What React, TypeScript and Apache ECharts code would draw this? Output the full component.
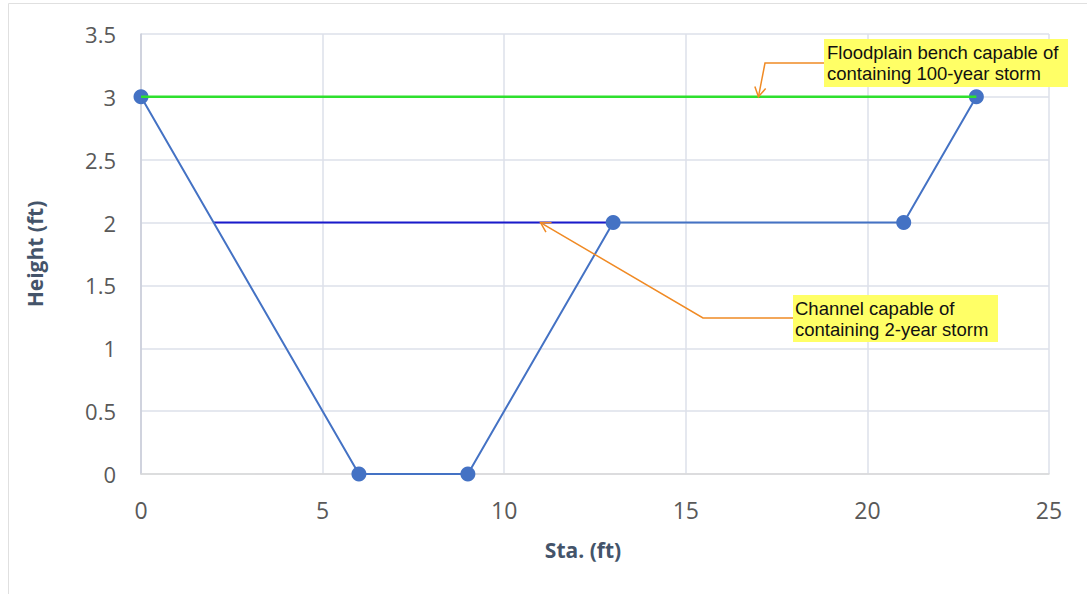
import React, { useEffect, useRef } from "react";
import * as echarts from "echarts";

const stationFt = [0, 6, 9, 13, 21, 23];
const heightFt = [3, 0, 0, 2, 2, 3];
const floodplainLine = [[0, 3], [23, 3]];
const channelLine = [[2, 2], [13, 2]];
const xTicks = [0, 25, 5];
const yTicks = [0, 3.5, 0.5];
const noteBench = ["Floodplain bench capable of", "containing 100-year storm"];
const noteChannel = ["Channel capable of", "containing 2-year storm"];
const benchTarget = [17, 3];
const channelTarget = [11, 2];

export default function App() {
  const ref = useRef<HTMLDivElement>(null);
  useEffect(() => {
    document.body.style.margin = "0";
    const chart = echarts.init(ref.current!, undefined, { renderer: "svg" });
    const titleFont = { fontFamily: "Open Sans", fontSize: 21, fontWeight: "bold", color: "#44546a" };
    chart.setOption({
      animation: false,
      backgroundColor: "#ffffff",
      grid: { left: 141, right: 38, top: 34, bottom: 120 },
      xAxis: {
        type: "value",
        min: xTicks[0],
        max: xTicks[1],
        interval: xTicks[2],
        name: "Sta. (ft)",
        nameLocation: "middle",
        nameGap: 65,
        nameTextStyle: { ...titleFont, padding: [0, 24, 0, 0] },
        axisLine: { show: true, lineStyle: { color: "#d9d9d9", width: 1.5 } },
        axisTick: { show: false },
        axisLabel: {
          show: true,
          margin: 24,
          fontFamily: "Open Sans",
          fontSize: 23,
          color: "#595959",
        },
        splitLine: { show: true, lineStyle: { color: "#dde0ea", width: 1.5 } },
      },
      yAxis: {
        type: "value",
        min: yTicks[0],
        max: yTicks[1],
        interval: yTicks[2],
        name: "Height (ft)",
        nameLocation: "middle",
        nameRotate: 90,
        nameGap: 96,
        nameTextStyle: titleFont,
        axisLine: { show: true, lineStyle: { color: "#c8ccd8", width: 1.5 } },
        axisTick: { show: false },
        axisLabel: {
          show: true,
          margin: 25,
          fontFamily: "Open Sans",
          fontSize: 22,
          color: "#595959",
        },
        splitLine: { show: true, lineStyle: { color: "#dde0ea", width: 1.5 } },
      },
      series: [
        {
          type: "line",
          data: channelLine,
          symbol: "none",
          lineStyle: { color: "#1a1acc", width: 2 },
          z: 2,
        },
        {
          type: "line",
          data: stationFt.map((x, i) => [x, heightFt[i]]),
          symbol: "circle",
          symbolSize: 15,
          itemStyle: { color: "#4472c4" },
          lineStyle: { color: "#4472c4", width: 2 },
          z: 3,
        },
        {
          type: "line",
          data: floodplainLine,
          symbol: "none",
          lineStyle: { color: "#2ee02e", width: 2.5 },
          z: 4,
        },
      ],
    });

    const arrow = (start: number[], elbow: number[], tip: number[]) => {
      const dx = tip[0] - elbow[0];
      const dy = tip[1] - elbow[1];
      const len = Math.hypot(dx, dy);
      const ux = dx / len;
      const uy = dy / len;
      const h = 11;
      const a = Math.PI / 6;
      const rot = (ang: number) => [
        tip[0] - h * (ux * Math.cos(ang) - uy * Math.sin(ang)),
        tip[1] - h * (ux * Math.sin(ang) + uy * Math.cos(ang)),
      ];
      const stroke = { stroke: "#f08a24", lineWidth: 1.5, fill: null };
      return [
        { type: "polyline", shape: { points: [start, elbow, tip] }, style: stroke, z: 10 },
        { type: "polyline", shape: { points: [rot(a), tip, rot(-a)] }, style: stroke, z: 10 },
      ];
    };

    const t1 = chart.convertToPixel({ gridIndex: 0 }, benchTarget) as number[];
    const t2 = chart.convertToPixel({ gridIndex: 0 }, channelTarget) as number[];
    const noteFont = { fontFamily: "Liberation Sans", fontSize: 18.5, fill: "#111111", lineHeight: 21 };

    chart.setOption({
      graphic: [
        {
          type: "rect",
          shape: { x: 8.5, y: 3.5, width: 1100, height: 620 },
          style: { fill: null, stroke: "#e0e0e0", lineWidth: 1 },
          silent: true,
        },
        ...arrow([825, 63], [765, 63], t1),
        ...arrow([793, 318], [703, 318], t2),
        {
          type: "rect",
          shape: { x: 824, y: 39, width: 244, height: 48 },
          style: { fill: "#ffff66" },
          z: 11,
        },
        {
          type: "text",
          x: 827,
          y: 42,
          style: { text: noteBench.join("\n"), ...noteFont },
          z: 12,
        },
        {
          type: "rect",
          shape: { x: 793, y: 295, width: 205, height: 47 },
          style: { fill: "#ffff66" },
          z: 11,
        },
        {
          type: "text",
          x: 795,
          y: 298,
          style: { text: noteChannel.join("\n"), ...noteFont },
          z: 12,
        },
      ],
    });
    return () => chart.dispose();
  }, []);
  return <div ref={ref} style={{ width: 1087, height: 594 }} />;
}
